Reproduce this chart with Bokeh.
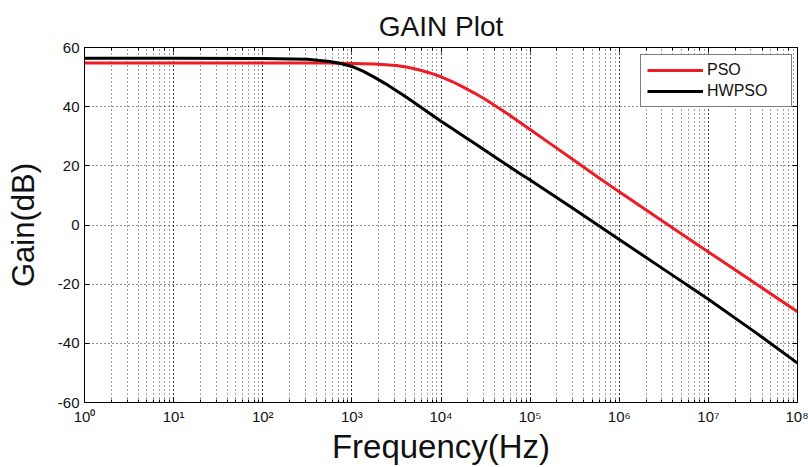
from bokeh.plotting import figure
from bokeh.models import (Range1d, LogAxis, LinearAxis, CustomJSTickFormatter,
                          FixedTicker, LogTicker)
from bokeh.embed import file_html
from bokeh.resources import INLINE

# ---- data ----
log_freq = [0, 1, 2, 2.5, 2.75, 2.875, 3, 3.125, 3.25, 3.375, 3.5, 3.625, 3.75,
            3.875, 4, 4.125, 4.25, 4.375, 4.5, 4.625, 4.75, 4.875, 5, 5.25, 5.5,
            5.75, 6, 6.5, 7, 7.5, 8]
frequency = [10 ** e for e in log_freq]
pso_gain = [54.8, 54.8, 54.8, 54.8, 54.75, 54.7, 54.6, 54.5, 54.4, 54.2, 53.9,
            53.3, 52.5, 51.4, 50.1, 48.5, 46.6, 44.6, 42.4, 40.0, 37.5, 34.9,
            32.3, 27.0, 21.7, 16.4, 11.2, 1.0, -9.1, -19.2, -29.3]
hwpso_gain = [56.4, 56.4, 56.3, 56.0, 55.3, 54.6, 53.6, 52.0, 50.0, 47.8, 45.4,
              42.9, 40.3, 37.7, 35.1, 32.6, 30.1, 27.6, 25.1, 22.6, 20.1, 17.6,
              15.2, 10.2, 5.2, 0.2, -4.9, -15.0, -25.1, -35.7, -46.7]
series_names = ["PSO", "HWPSO"]
x_tick_labels = ["10\u2070", "10\u00b9", "10\u00b2", "10\u00b3", "10\u2074",
                 "10\u2075", "10\u2076", "10\u2077", "10\u2078"]
y_ticks = [-60, -40, -20, 0, 20, 40, 60]
y_tick_labels = ["-60", "-40", "-20", "0", "20", "40", "60"]

FONT = "Liberation Sans"

p = figure(width=808, height=467, x_axis_type="log",
           x_range=Range1d(1, 1e8), y_range=Range1d(-60, 60),
           output_backend="svg", toolbar_location=None, title="GAIN Plot",
           min_border_left=84, min_border_right=11, min_border_top=47,
           min_border_bottom=62, background_fill_color="white",
           border_fill_color="white", outline_line_color="black")

p.title.align = "center"
p.title.text_font = FONT
p.title.text_font_size = "28px"
p.title.text_font_style = "normal"
p.title.text_color = "#111111"
p.title.standoff = 12

fmt = CustomJSTickFormatter(args=dict(labels=x_tick_labels), code="""
const e = Math.round(Math.log10(tick));
return (e >= 0 && e < labels.length) ? labels[e] : '';
""")

xa = p.xaxis[0]
xa.formatter = fmt
xa.axis_label = "Frequency(Hz)"
ya = p.yaxis[0]
ya.ticker = FixedTicker(ticks=y_ticks)
ya.major_label_overrides = {t: s for t, s in zip(y_ticks, y_tick_labels)}
ya.axis_label = "Gain(dB)"

for ax in (xa, ya):
    ax.axis_label_text_font = FONT
    ax.axis_label_text_font_style = "normal"
    ax.axis_label_text_color = "#111111"
    ax.axis_label_standoff = 0
    ax.major_label_text_font = FONT
    ax.major_label_text_font_size = "15px"
    ax.major_label_text_color = "#111111"
    ax.major_label_standoff = 5
    ax.major_tick_in = 5
    ax.major_tick_out = 0
    ax.minor_tick_in = 3
    ax.minor_tick_out = 0
    ax.axis_line_color = "black"
    ax.major_tick_line_color = "black"
    ax.minor_tick_line_color = "black"
xa.axis_label_text_font_size = "33px"
xa.major_label_standoff = 5
ya.axis_label_text_font_size = "31px"
ya.axis_label_standoff = 14
ya.minor_tick_line_color = None

blank = CustomJSTickFormatter(code="return '';")
top = LogAxis(ticker=LogTicker(), formatter=blank, major_tick_in=5,
              major_tick_out=0, minor_tick_in=3, minor_tick_out=0,
              major_label_standoff=0, major_label_text_font_size="1px",
              axis_line_color="black")
right = LinearAxis(ticker=FixedTicker(ticks=y_ticks), formatter=blank,
                   major_tick_in=5, major_tick_out=0, minor_tick_line_color=None,
                   major_label_standoff=0, major_label_text_font_size="1px",
                   axis_line_color="black")
p.add_layout(top, "above")
p.add_layout(right, "right")

# dotted grid
p.xgrid.grid_line_color = "black"
p.xgrid.grid_line_alpha = 0.85
p.xgrid.grid_line_dash = "1 3"
p.xgrid.minor_grid_line_color = "black"
p.xgrid.minor_grid_line_alpha = 0.75
p.xgrid.minor_grid_line_dash = "1 3"
p.ygrid.ticker = FixedTicker(ticks=y_ticks)
p.ygrid.grid_line_color = "black"
p.ygrid.grid_line_alpha = 0.85
p.ygrid.grid_line_dash = "1 3"

p.line(frequency, pso_gain, line_color="#ee1c24", line_width=3,
       legend_label=series_names[0])
p.line(frequency, hwpso_gain, line_color="black", line_width=3,
       legend_label=series_names[1])

lg = p.legend[0]
lg.location = (556, 295)
lg.border_line_color = "black"
lg.border_line_width = 1
lg.background_fill_color = "white"
lg.background_fill_alpha = 1
lg.label_text_font = FONT
lg.label_text_font_size = "16px"
lg.label_text_color = "#111111"
lg.glyph_width = 56
lg.glyph_height = 16
lg.label_height = 16
lg.label_width = 78
lg.label_standoff = 4
lg.spacing = 3
lg.padding = 6
lg.margin = 0

open("out.html", "w").write(file_html(p, INLINE))
